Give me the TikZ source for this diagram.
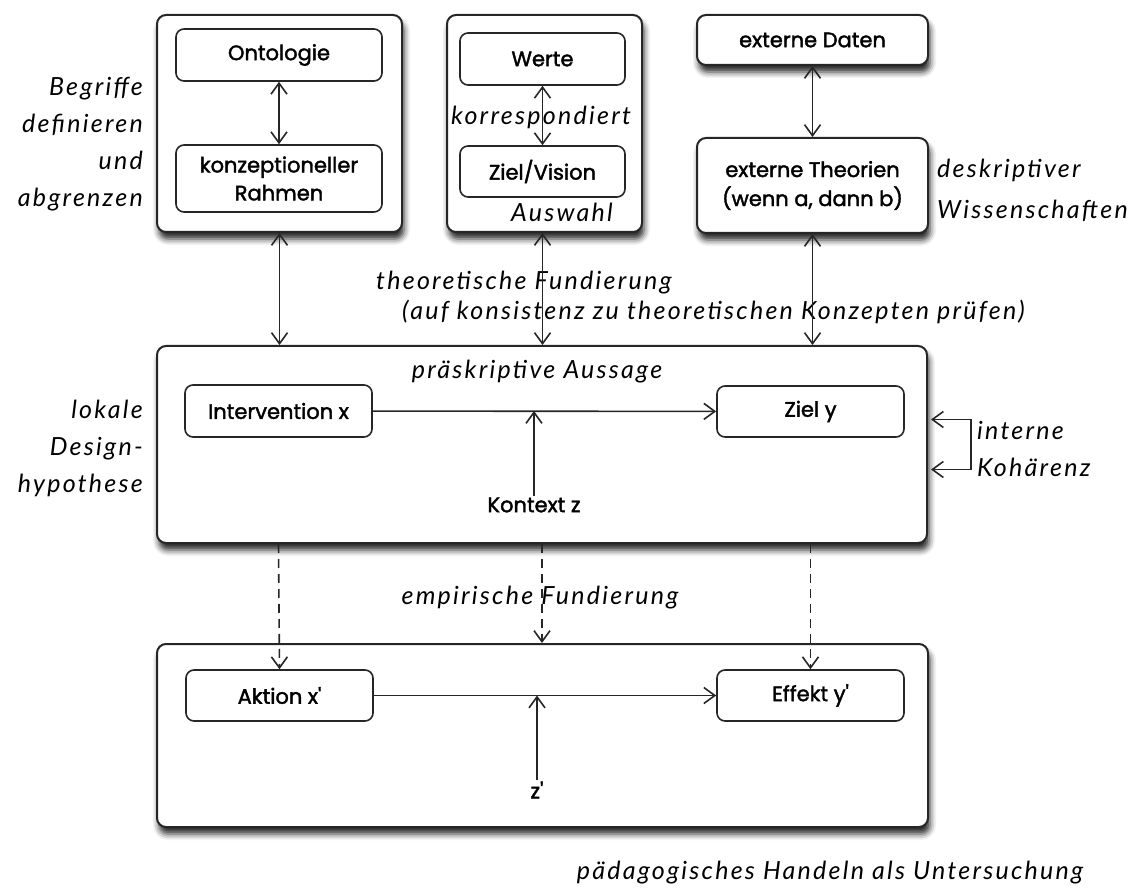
\documentclass[tikz,border=0pt]{standalone}
\usepackage{fontspec}
\setmainfont{Poppins}
\newfontfamily\boxfont{Poppins}[FakeBold=1.8]
\newfontfamily\handfont{Lato}[LetterSpace=9]
\usetikzlibrary{arrows.meta,shadows.blur,calc}

\tikzset{
  x=1pt, y=-1pt,
  ink/.style={draw=black!85},
  frame/.style={ink, line width=2pt, rounded corners=9pt, fill=white,
    blur shadow={shadow xshift=2pt, shadow yshift=-7pt, shadow blur radius=6pt, shadow opacity=85}},
  panel/.style={ink, line width=1.6pt, rounded corners=8pt, fill=white,
    font=\boxfont\fontsize{21}{28}\selectfont, align=center, inner sep=0pt},
  sbox/.style={frame, font=\boxfont\fontsize{21}{29}\selectfont, align=center, inner sep=0pt},
  boxtext/.style={font=\boxfont\fontsize{21}{28}\selectfont, inner sep=1pt},
  hand/.style={font=\handfont\itshape\fontsize{25}{37}\selectfont, inner sep=0pt},
  tip/.tip={Straight Barb[length=11pt, width=16pt, line width=1.6pt]},
  arr/.style={line width=1.6pt, black!85, -tip},
  biarr/.style={line width=1.6pt, black!85, tip-tip},
  dasharr/.style={arr, dash pattern=on 9pt off 6pt},
}

\begin{document}
\begin{tikzpicture}
\useasboundingbox (0,0) rectangle (1144,890);

% upper row: framed groups
\node[frame, minimum width=245pt, minimum height=217pt] (L) at (279.5,123.5) {};
\node[frame, minimum width=195pt, minimum height=217pt] (M) at (544.5,123.5) {};
\node[sbox, minimum width=231pt, minimum height=50pt] (daten) at (812.5,40) {externe Daten};
\node[sbox, minimum width=231pt, minimum height=95pt] (theo) at (812.5,185.5) {externe Theorien\\(wenn a, dann b)};

\node[panel, minimum width=206pt, minimum height=52pt] (onto) at (279,55) {Ontologie};
\node[panel, minimum width=206pt, minimum height=67pt] (konz) at (279,178.5) {konzeptioneller\\Rahmen};
\node[panel, minimum width=165pt, minimum height=52pt] (werte) at (542.5,59) {Werte};
\node[panel, minimum width=165pt, minimum height=51pt] (vision) at (542.5,171.5) {Ziel/Vision};

% design hypothesis and investigation frames
\node[frame, minimum width=770pt, minimum height=197pt] (mid) at (542,444.5) {};
\node[frame, minimum width=771pt, minimum height=183pt] (bot) at (542.5,735.5) {};

\node[panel, minimum width=187pt, minimum height=52pt] (interv) at (278.5,411) {Intervention x};
\node[panel, minimum width=187pt, minimum height=51pt] (ziely) at (810.5,411.5) {Ziel y};
\node[boxtext] (kz) at (534,505) {Kontext z};

\node[panel, minimum width=187pt, minimum height=51pt] (aktion) at (279.5,695.5) {Aktion x\textquotesingle};
\node[panel, minimum width=187pt, minimum height=51pt] (effekt) at (810.5,695.5) {Effekt y\textquotesingle};
\node[boxtext] (zs) at (537,790) {z\textquotesingle};

% handwritten annotations
\node[hand, align=right, anchor=east] (begr) at (143,144) {Begriffe\\definieren\\und\\abgrenzen};
\node[hand] (korr) at (541,117) {korrespondiert};
\node[hand] (ausw) at (562,212) {Auswahl};
\node[hand, align=left, anchor=west] (deskr) at (937,190) {deskriptiver\\[4pt]Wissenschaften};
\node[hand, anchor=west] (theor1) at (376,283) {theoretische Fundierung};
\node[hand, anchor=west] (theor2) at (402,312) {(auf konsistenz zu theoretischen Konzepten prüfen)};
\node[hand] (praes) at (537,372) {präskriptive Aussage};
\node[hand, align=right, anchor=east] (lokal) at (143,448) {lokale\\Design-\\hypothese};
\node[hand, align=left, anchor=west] (kohae) at (977,449) {interne\\Kohärenz};
\node[hand] (empir) at (540,598) {empirische Fundierung};
\node[hand] (paed) at (830,873) {pädagogisches Handeln als Untersuchung};

% connectors inside the upper groups
\draw[biarr] (onto) -- (konz);
\draw[biarr] (werte) -- (vision);
\draw[biarr] (daten) -- (theo);

% theoretical grounding
\draw[biarr] (L.south) -- (L.south |- mid.north);
\draw[biarr] (vision.south |- M.south) -- (vision.south |- mid.north);
\draw[biarr] (theo.south) -- (theo.south |- mid.north);

% prescriptive statement
\draw[arr] (interv) -- (ziely);
\draw[arr] (kz.north) -- (kz.north |- interv.east);
\draw[biarr] ([shift={(3,-25)}]mid.east) -- ++(40,0) -- ++(0,50) -- ++(-40,0);

% empirical grounding
\draw[dasharr] (interv.south |- mid.south) -- (aktion.north);
\draw[dasharr] (mid.south) -- (mid.south |- bot.north);
\draw[dasharr] (ziely.south |- mid.south) -- (effekt.north);

% pedagogical action
\draw[arr] (aktion) -- (effekt);
\draw[arr] (zs.north) -- (zs.north |- aktion.east);
\end{tikzpicture}
\end{document}
